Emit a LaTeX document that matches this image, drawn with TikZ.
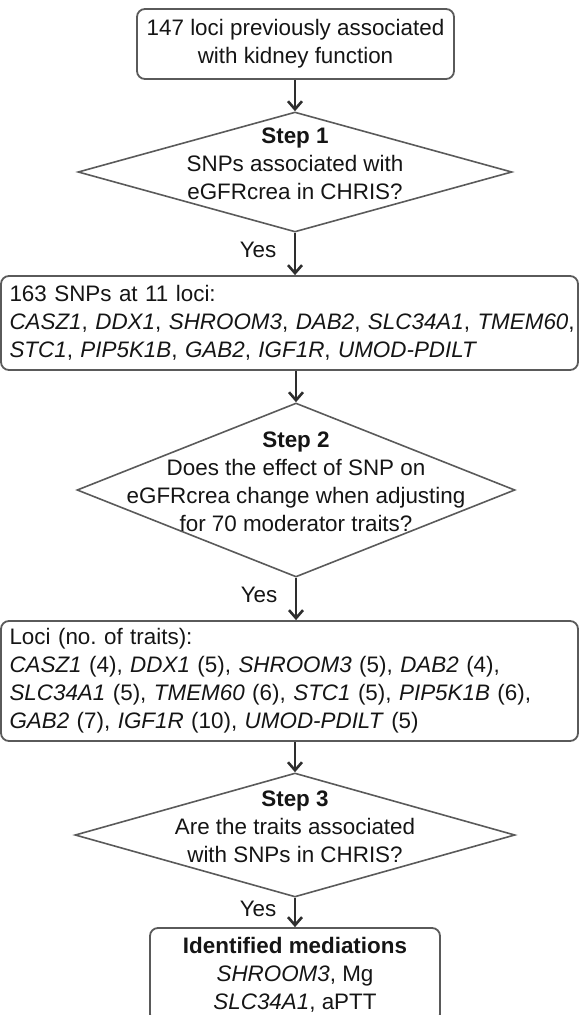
\documentclass[tikz,border=0pt]{standalone}
\usepackage{fontspec}
\setmainfont{Liberation Sans}
\usetikzlibrary{shapes.geometric,arrows.meta}
\definecolor{lineGray}{HTML}{5A5A5A}
\definecolor{textDark}{HTML}{151515}
\definecolor{arrowDark}{HTML}{2E2E2E}
\frenchspacing

\begin{document}
\begin{tikzpicture}[
    x=1pt, y=-1pt,
    font=\fontsize{22.4}{28}\selectfont,
    % Boxes, decisions and connectors
    infoBox/.style={draw=lineGray, text=textDark, line width=1.8pt, rounded corners=8pt, inner sep=0pt, align=center},
    listBox/.style={infoBox, align=left, text width=560pt, inner xsep=8.5pt, minimum width=577pt},
    decision/.style={draw=lineGray, line width=1.6pt, diamond, inner sep=0pt},
    stepText/.style={text=textDark, align=center, yshift=8pt},
    flow/.style={draw=arrowDark, line width=2.6pt, -{Straight Barb[length=8pt, width=14pt]}},
    yesLabel/.style={text=textDark, anchor=east, xshift=-14pt, yshift=4pt}
]
    \useasboundingbox (0,0) rectangle (579,1015);

    % --- START ---
    \node[infoBox, minimum width=317pt, minimum height=70pt] (start) at (295.5,44)
        {147 loci previously associated\\with kidney function};

    % --- STEP 1 ---
    \node[decision, minimum width=434pt, minimum height=120pt,
        label={[stepText]center:{\textbf{Step 1}\\SNPs associated with\\eGFRcrea in CHRIS?}}] (step1) at (295,172) {};

    \node[listBox, minimum height=94pt] (snps) at (289.5,323)
        {163 SNPs at 11 loci:\\
         \mbox{\textit{CASZ1}, \textit{DDX1}, \textit{SHROOM3}, \textit{DAB2}, \textit{SLC34A1}, \textit{TMEM60},}\\
         \textit{STC1}, \textit{PIP5K1B}, \textit{GAB2}, \textit{IGF1R}, \textit{UMOD-PDILT}};

    % --- STEP 2 ---
    \node[decision, minimum width=438pt, minimum height=174pt,
        label={[stepText]center:{\textbf{Step 2}\\Does the effect of SNP on\\eGFRcrea change when adjusting\\for 70 moderator traits?}}] (step2) at (296,490) {};

    \node[listBox, minimum height=120pt] (loci) at (289.5,681)
        {Loci (no. of traits):\\
         \textit{CASZ1} (4), \textit{DDX1} (5), \textit{SHROOM3} (5), \textit{DAB2} (4),\\
         \textit{SLC34A1} (5), \textit{TMEM60} (6), \textit{STC1} (5), \textit{PIP5K1B} (6),\\
         \textit{GAB2} (7), \textit{IGF1R} (10), \textit{UMOD-PDILT} (5)};

    % --- STEP 3 ---
    \node[decision, minimum width=440pt, minimum height=124pt,
        label={[stepText]center:{\textbf{Step 3}\\Are the traits associated\\with SNPs in CHRIS?}}] (step3) at (295,835) {};

    \node[infoBox, minimum width=290pt, minimum height=94pt] (result) at (295,975)
        {\textbf{Identified mediations}\\\textit{SHROOM3}, Mg\\\textit{SLC34A1}, aPTT};

    % --- CONNECTORS ---
    \draw[flow] (start.south -| step1.north) -- (step1.north);
    \draw[flow] (step1.south) -- node[yesLabel] (yes1) {Yes} (step1.south |- snps.north);
    \draw[flow] (snps.south -| step2.north) -- (step2.north);
    \draw[flow] (step2.south) -- node[yesLabel] (yes2) {Yes} (step2.south |- loci.north);
    \draw[flow] (loci.south -| step3.north) -- (step3.north);
    \draw[flow] (step3.south) -- node[yesLabel] (yes3) {Yes} (step3.south |- result.north);

\end{tikzpicture}
\end{document}
